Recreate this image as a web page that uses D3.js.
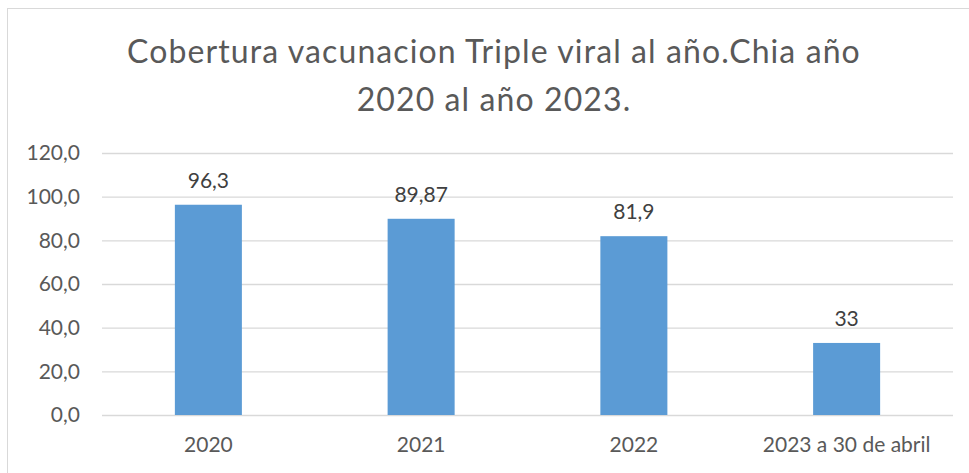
<!DOCTYPE html>
<html>
<head>
<meta charset="utf-8">
<script src="https://cdn.jsdelivr.net/npm/d3@7"></script>
<style>
  html, body { margin: 0; padding: 0; background: #fff; }
  svg { display: block; font-family: Lato, "Open Sans", sans-serif; }
</style>
</head>
<body>
<svg id="chart" width="969" height="473"></svg>
<script>
const categories = ["2020", "2021", "2022", "2023 a 30 de abril"];
const values = [96.3, 89.87, 81.9, 33];
const valueLabels = ["96,3", "89,87", "81,9", "33"];
const yTicks = [0, 20, 40, 60, 80, 100, 120];
const titleLines = ["Cobertura vacunacion Triple viral al año.Chia año", "2020 al año 2023."];

const svg = d3.select("#chart");
const W = 969, H = 473;
const margin = { left: 102, right: 16, top: 153, bottom: 57 };

svg.append("rect").attr("x", 7.5).attr("y", 8.5).attr("width", W + 20).attr("height", H + 20)
  .attr("fill", "#fff").attr("stroke", "#d9d9d9").attr("stroke-width", 1);

const x = d3.scaleBand().domain(categories).range([margin.left, W - margin.right]).paddingInner(0.685).paddingOuter(0.3425);
const y = d3.scaleLinear().domain([0, 120]).range([H - margin.bottom - 1, margin.top]);

// gridlines
const grid = svg.append("g").attr("transform", `translate(${margin.left},0)`)
  .call(d3.axisLeft(y).tickValues(yTicks).tickSize(-(W - margin.right - margin.left)).tickFormat(""));
grid.select(".domain").remove();
grid.selectAll(".tick line").attr("stroke", "#d9d9d9").attr("stroke-width", 1.3);

// y axis labels
const yAxis = svg.append("g").attr("transform", `translate(${margin.left - 22},0)`)
  .call(d3.axisLeft(y).tickValues(yTicks).tickSize(0).tickPadding(0)
    .tickFormat(d => d3.format(".1f")(d).replace(".", ",")));
yAxis.select(".domain").remove();
yAxis.selectAll("text").attr("fill", "#595959").style("font-size", "21px").style("font-family", "Lato, sans-serif");

// x axis labels
const xAxis = svg.append("g").attr("transform", `translate(0,${y(0)})`)
  .call(d3.axisBottom(x).tickSize(0).tickPadding(22));
xAxis.select(".domain").remove();
xAxis.selectAll("text").attr("fill", "#595959").style("font-size", "21px").style("font-family", "Lato, sans-serif");

// bars
svg.append("g").selectAll("rect").data(values).join("rect")
  .attr("x", (d, i) => x(categories[i]))
  .attr("width", x.bandwidth())
  .attr("y", d => y(d))
  .attr("height", d => y(0) - y(d))
  .attr("fill", "#5B9BD5");

// data labels
svg.append("g").selectAll("text").data(values).join("text")
  .attr("x", (d, i) => x(categories[i]) + x.bandwidth() / 2)
  .attr("y", d => y(d) - 17)
  .attr("text-anchor", "middle")
  .attr("fill", "#404040")
  .style("font-size", "21px")
  .text((d, i) => valueLabels[i]);

// title
svg.append("g").selectAll("text").data(titleLines).join("text")
  .attr("x", 494)
  .attr("y", (d, i) => 63 + i * 47.5)
  .attr("text-anchor", "middle")
  .attr("fill", "#595959")
  .style("font-size", "32px")
  .style("letter-spacing", "1.1px")
  .text(d => d);
</script>
</body>
</html>
